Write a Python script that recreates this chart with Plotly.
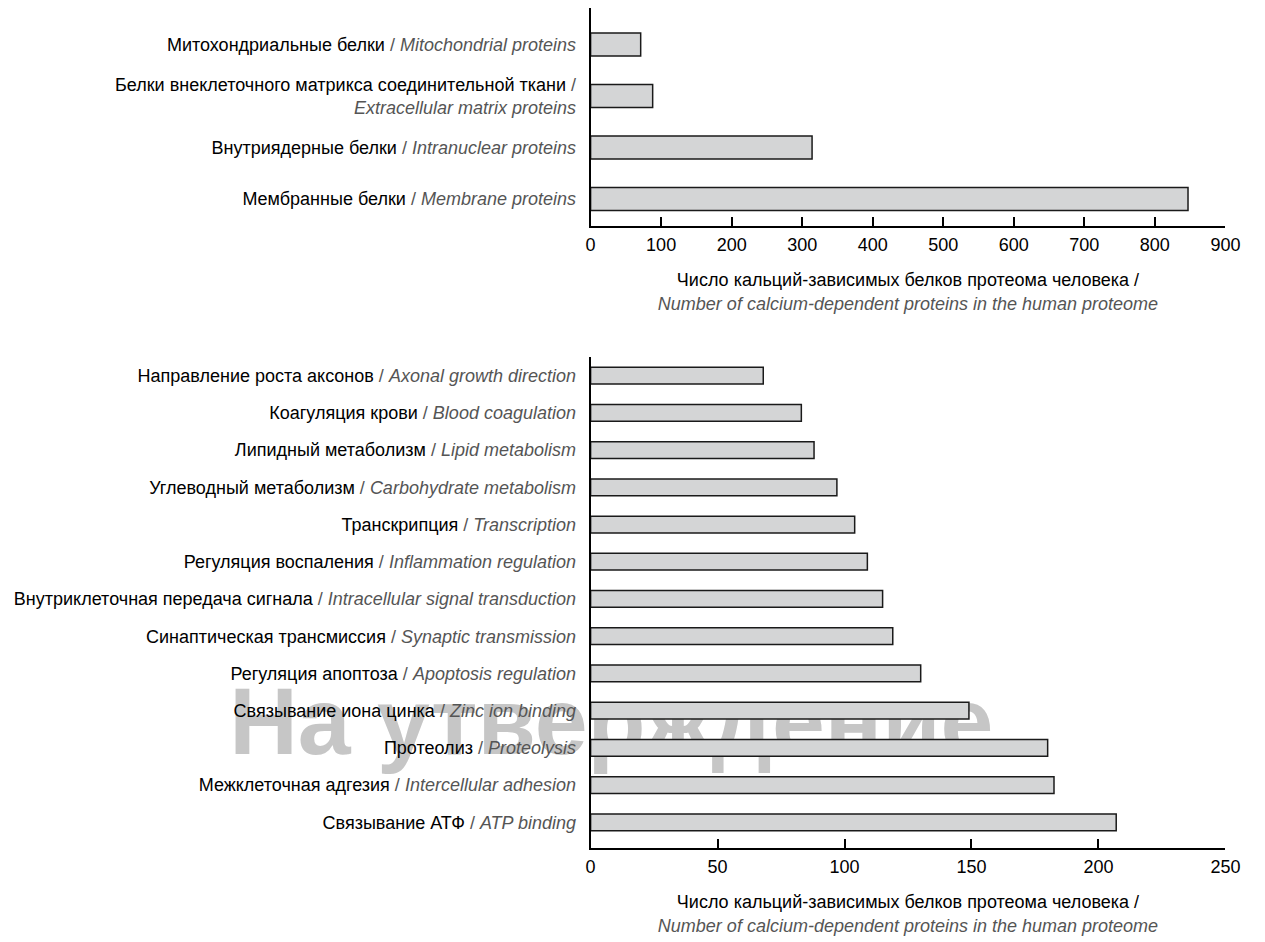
import plotly.graph_objects as go

# ---- data ----
top_ru = ["Митохондриальные белки", "Белки внеклеточного матрикса соединительной ткани",
          "Внутриядерные белки", "Мембранные белки"]
top_en = ["Mitochondrial proteins", "Extracellular matrix proteins",
          "Intranuclear proteins", "Membrane proteins"]
top_vals = [71, 88, 314, 847]

bot_ru = ["Направление роста аксонов", "Коагуляция крови", "Липидный метаболизм",
          "Углеводный метаболизм", "Транскрипция", "Регуляция воспаления",
          "Внутриклеточная передача сигнала", "Синаптическая трансмиссия",
          "Регуляция апоптоза", "Связывание иона цинка", "Протеолиз",
          "Межклеточная адгезия", "Связывание АТФ"]
bot_en = ["Axonal growth direction", "Blood coagulation", "Lipid metabolism",
          "Carbohydrate metabolism", "Transcription", "Inflammation regulation",
          "Intracellular signal transduction", "Synaptic transmission",
          "Apoptosis regulation", "Zinc ion binding", "Proteolysis",
          "Intercellular adhesion", "ATP binding"]
bot_vals = [68, 83, 88, 97, 104, 109, 115, 119, 130, 149, 180, 182.5, 207]

top_ticks = [0, 100, 200, 300, 400, 500, 600, 700, 800, 900]
bot_ticks = [0, 50, 100, 150, 200, 250]

x_title_ru = "Число кальций-зависимых белков протеома человека /"
x_title_en = "Number of calcium-dependent proteins in the human proteome"
watermark = "На утверждение"

GRAY = "#555555"
FONT = "Liberation Sans, Arial, Helvetica, sans-serif"


def label(ru, en, wrap=False):
    if wrap:
        return f"{ru} <span style='color:{GRAY}'>/</span><br><span style='color:{GRAY}'><i>{en}</i></span>"
    return f"{ru} <span style='color:{GRAY}'>/ <i>{en}</i></span>"


top_labels = [label(r, e, wrap=(i == 1)) for i, (r, e) in enumerate(zip(top_ru, top_en))]
bot_labels = [label(r, e) for r, e in zip(bot_ru, bot_en)]

W, H = 1265, 942


def px_x(p):
    return p / W


def px_y(p):
    return 1 - p / H


fig = go.Figure()

bar_style = dict(marker=dict(color="#d4d5d6", line=dict(color="#1a1a1a", width=1.5)),
                 orientation="h", showlegend=False, hoverinfo="skip")

fig.add_trace(go.Bar(x=top_vals, y=top_labels, xaxis="x", yaxis="y", **bar_style))
fig.add_trace(go.Bar(x=bot_vals, y=bot_labels, xaxis="x2", yaxis="y2", **bar_style))

# watermark drawn below the plot layers
fig.add_shape(type="rect", xref="paper", yref="paper",
              x0=px_x(416), x1=px_x(816), y0=px_y(750), y1=px_y(674),
              line=dict(width=0), fillcolor="rgba(0,0,0,0)", layer="below",
              label=dict(text=watermark, textposition="middle center",
                         font=dict(family=FONT, size=95, color="#c6c6c6", weight="bold")))

xcommon = dict(showline=True, linecolor="black", linewidth=2, ticks="inside",
               ticklen=9, tickwidth=2, tickcolor="black", showgrid=False, zeroline=False,
               tickfont=dict(family=FONT, size=18, color="black"), ticklabelstandoff=1)
ycommon = dict(showline=True, linecolor="black", linewidth=2, ticks="", showgrid=False,
               zeroline=False, tickfont=dict(family=FONT, size=18, color="black"),
               ticklabelstandoff=9, type="category")

xtitle = dict(text=f"{x_title_ru}<br><span style='color:{GRAY}'><i>{x_title_en}</i></span>",
              font=dict(family=FONT, size=18, color="black"), standoff=20)

xd = [px_x(595), px_x(1240)]

fig.update_layout(
    width=W, height=H, margin=dict(l=0, r=0, t=0, b=0),
    plot_bgcolor="rgba(0,0,0,0)", paper_bgcolor="white",
    bargap=0.55,
    xaxis=dict(domain=xd, anchor="y", range=[0, 900], tickvals=top_ticks,
               title=xtitle, **xcommon),
    yaxis=dict(domain=[px_y(226), px_y(8)], anchor="x",
               range=[3.524, -0.709], **ycommon),
    xaxis2=dict(domain=xd, anchor="y2", range=[0, 250], tickvals=bot_ticks,
                title=xtitle, **xcommon),
    yaxis2=dict(domain=[px_y(848), px_y(357)], anchor="x2",
                range=[12.69, -0.5], **ycommon),
)

fig.write_html("out.html", config={"displayModeBar": False},
               post_script="document.body.style.margin='0px';document.body.style.overflow='hidden';")
